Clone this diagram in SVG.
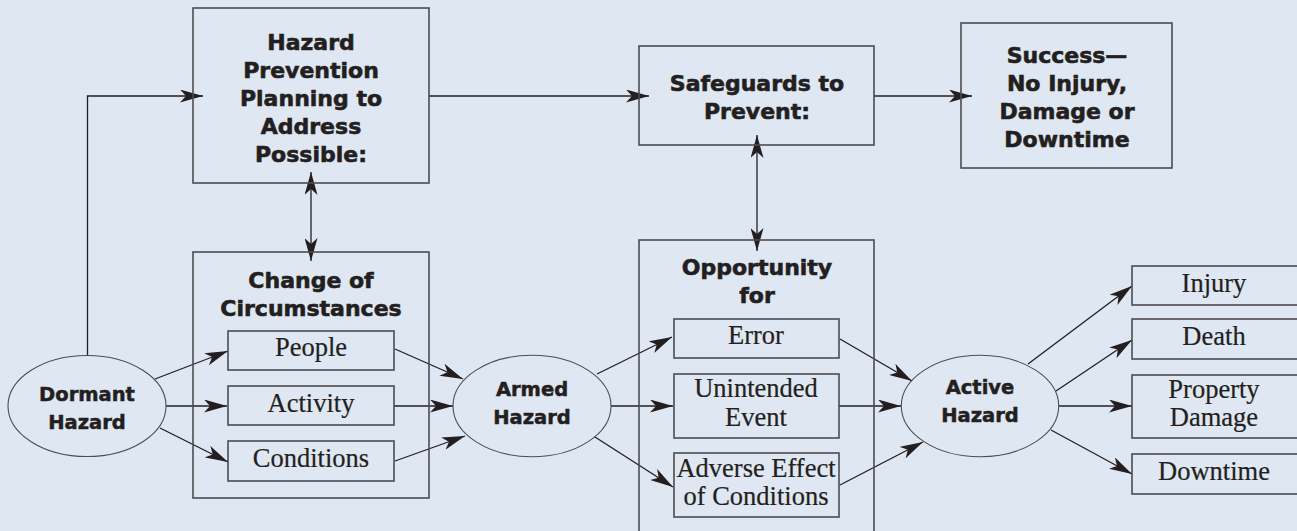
<svg xmlns="http://www.w3.org/2000/svg" width="1297" height="531" viewBox="0 0 1297 531">
<defs>
<style>
.box{fill:none;stroke:#4d4d4f;stroke-width:1.6}
.ell{fill:none;stroke:#4d4d4f;stroke-width:1.1}
.b{font-family:"DejaVu Sans",sans-serif;font-weight:bold;font-size:22px;fill:#231f20;stroke:#231f20;stroke-width:0.6;text-anchor:middle}
.bs{font-family:"DejaVu Sans",sans-serif;font-weight:bold;font-size:19.5px;fill:#231f20;stroke:#231f20;stroke-width:0.5;text-anchor:middle}
.s{font-family:"Liberation Serif",serif;font-size:26.5px;fill:#231f20;stroke:#231f20;stroke-width:0.2;text-anchor:middle}
.c{fill:none;stroke:#231f20;stroke-width:1.3}
</style>
<marker id="ah" viewBox="0 0 23 13" refX="23" refY="6.5" markerWidth="23" markerHeight="13" markerUnits="userSpaceOnUse" orient="auto-start-reverse">
<path d="M0,0 L23,6.5 L0,13 L6,6.5 Z" fill="#231f20"/>
</marker>
</defs>
<rect x="0" y="0" width="1297" height="531" fill="#dfe7f2"/>

<g id="connectors">
<path class="c" d="M87.5,356 V96 H203" marker-end="url(#ah)"/>
<path class="c" d="M429,96 H649" marker-end="url(#ah)"/>
<path class="c" d="M874,96 H972" marker-end="url(#ah)"/>
<path class="c" d="M311,172 V261" marker-start="url(#ah)" marker-end="url(#ah)"/>
<path class="c" d="M757,135 V251" marker-start="url(#ah)" marker-end="url(#ah)"/>
<path class="c" d="M155,379 L228,351" marker-end="url(#ah)"/>
<path class="c" d="M166,406 H227" marker-end="url(#ah)"/>
<path class="c" d="M160,428 L228,462" marker-end="url(#ah)"/>
<path class="c" d="M395,349 L463,379" marker-end="url(#ah)"/>
<path class="c" d="M394,406 H453" marker-end="url(#ah)"/>
<path class="c" d="M395,461 L465,436" marker-end="url(#ah)"/>
<path class="c" d="M597,374 L672,337" marker-end="url(#ah)"/>
<path class="c" d="M611,406 H673" marker-end="url(#ah)"/>
<path class="c" d="M595,437 L673,487" marker-end="url(#ah)"/>
<path class="c" d="M840,339 L912,381" marker-end="url(#ah)"/>
<path class="c" d="M839,406 H901" marker-end="url(#ah)"/>
<path class="c" d="M840,485 L923,442" marker-end="url(#ah)"/>
<path class="c" d="M1028,364 L1132,286" marker-end="url(#ah)"/>
<path class="c" d="M1056,391 L1132,340" marker-end="url(#ah)"/>
<path class="c" d="M1059,406 H1132" marker-end="url(#ah)"/>
<path class="c" d="M1051,430 L1132,474" marker-end="url(#ah)"/>
</g>

<g id="hazard-prevention">
<rect class="box" x="193" y="8" width="236" height="175"/>
<text class="b" x="311" y="50">Hazard</text>
<text class="b" x="311" y="78">Prevention</text>
<text class="b" x="311" y="106">Planning to</text>
<text class="b" x="311" y="134">Address</text>
<text class="b" x="311" y="162">Possible:</text>
</g>

<g id="safeguards">
<rect class="box" x="639" y="46" width="235" height="99"/>
<text class="b" x="757" y="91">Safeguards to</text>
<text class="b" x="757" y="119">Prevent:</text>
</g>

<g id="success">
<rect class="box" x="961" y="23" width="211" height="145"/>
<text class="b" x="1067" y="63">Success—</text>
<text class="b" x="1067" y="91">No Injury,</text>
<text class="b" x="1067" y="119">Damage or</text>
<text class="b" x="1067" y="147">Downtime</text>
</g>

<g id="change-of-circumstances">
<rect class="box" x="193" y="252" width="236" height="246"/>
<text class="b" x="311" y="288">Change of</text>
<text class="b" x="311" y="316">Circumstances</text>
</g>
<g id="people">
<rect class="box" x="228" y="331" width="166" height="39"/>
<text class="s" x="311" y="356">People</text>
</g>
<g id="activity">
<rect class="box" x="228" y="386" width="166" height="39"/>
<text class="s" x="311" y="412">Activity</text>
</g>
<g id="conditions">
<rect class="box" x="228" y="441" width="166" height="40"/>
<text class="s" x="311" y="467">Conditions</text>
</g>

<g id="dormant-hazard">
<ellipse class="ell" cx="87" cy="406" rx="79" ry="50.5"/>
<text class="bs" x="87" y="401">Dormant</text>
<text class="bs" x="87" y="429">Hazard</text>
</g>

<g id="armed-hazard">
<ellipse class="ell" cx="532" cy="406" rx="79" ry="50.7"/>
<text class="bs" x="532" y="396">Armed</text>
<text class="bs" x="532" y="424">Hazard</text>
</g>

<g id="opportunity">
<rect class="box" x="639" y="240" width="235" height="300"/>
<text class="b" x="757" y="275">Opportunity</text>
<text class="b" x="757" y="303">for</text>
</g>
<g id="error">
<rect class="box" x="674" y="319" width="165" height="39"/>
<text class="s" x="756" y="344">Error</text>
</g>
<g id="unintended-event">
<rect class="box" x="674" y="374" width="165" height="64"/>
<text class="s" x="756" y="397">Unintended</text>
<text class="s" x="756" y="426">Event</text>
</g>
<g id="adverse-effect">
<rect class="box" x="674" y="453" width="165" height="64"/>
<text class="s" x="756" y="477">Adverse Effect</text>
<text class="s" x="756" y="505">of Conditions</text>
</g>

<g id="active-hazard">
<ellipse class="ell" cx="980" cy="406" rx="78.7" ry="50.7"/>
<text class="bs" x="980" y="394">Active</text>
<text class="bs" x="980" y="422">Hazard</text>
</g>

<g id="injury">
<rect class="box" x="1132" y="266" width="170" height="39"/>
<text class="s" x="1214" y="292">Injury</text>
</g>
<g id="death">
<rect class="box" x="1132" y="319" width="170" height="40"/>
<text class="s" x="1214" y="345">Death</text>
</g>
<g id="property-damage">
<rect class="box" x="1132" y="375" width="170" height="63"/>
<text class="s" x="1214" y="398">Property</text>
<text class="s" x="1214" y="426">Damage</text>
</g>
<g id="downtime">
<rect class="box" x="1132" y="454" width="170" height="40"/>
<text class="s" x="1214" y="480">Downtime</text>
</g>
</svg>
